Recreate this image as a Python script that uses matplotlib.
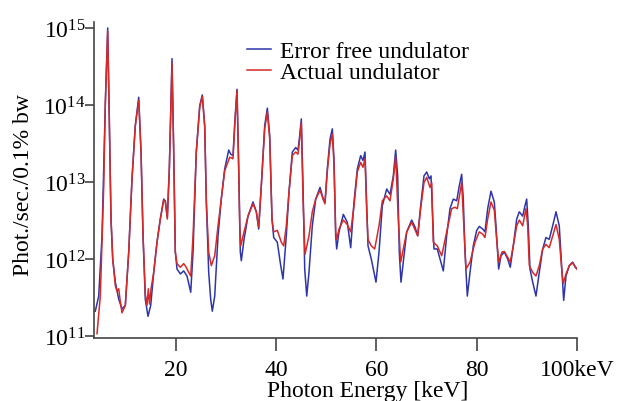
import numpy as np
import matplotlib
matplotlib.use('Agg')
import matplotlib.pyplot as plt
from matplotlib.transforms import ScaledTranslation

# Error free undulator (photon energy in keV, flux in phot/s/0.1% bw)
energy_free = [3.98, 4.66, 5.32, 5.98, 6.45, 6.77, 7.11, 7.45, 7.97, 8.65, 9.30, 9.96, 10.64, 11.29, 11.95,
               12.63, 13.09, 13.49, 13.94, 14.48, 15.02, 15.62, 16.27, 16.93, 17.61, 17.93, 18.33, 18.73, 19.26,
               19.60, 19.92, 20.26, 20.92, 21.59, 22.25, 22.99, 23.45, 24.10, 24.78, 25.30, 25.78, 26.10, 26.57,
               26.97, 27.29, 27.77, 28.43, 29.08, 29.76, 30.56, 30.96, 31.41, 31.81, 32.21, 32.55, 32.87, 33.07,
               33.61, 34.40, 35.40, 36.06, 36.53, 37.05, 37.73, 38.25, 38.73, 39.18, 39.52, 40.24, 40.92, 41.37,
               42.03, 42.57, 43.23, 43.90, 44.36, 44.70, 45.02, 45.36, 45.70, 46.10, 46.55, 47.21, 47.89, 48.75,
               49.40, 49.74, 50.20, 50.74, 51.20, 51.53, 51.87, 52.07, 52.53, 53.39, 54.18, 54.86, 55.52, 56.18,
               56.85, 57.31, 57.71, 58.05, 58.31, 58.96, 59.50, 59.90, 60.50, 61.16, 62.03, 62.69, 63.35, 63.82,
               64.22, 64.54, 64.88, 65.34, 66.02, 67.01, 67.67, 68.21, 68.80, 69.46, 70.00, 70.52, 70.86, 71.20,
               71.45, 72.11, 72.65, 73.31, 73.98, 74.64, 75.30, 75.98, 76.49, 76.97, 77.29, 77.63, 78.09, 78.63,
               79.28, 79.96, 80.48, 81.16, 81.61, 82.15, 82.81, 83.47, 83.80, 84.34, 84.80, 85.46, 86.14, 86.65,
               87.25, 87.93, 88.45, 89.12, 89.58, 89.92, 90.24, 90.58, 91.12, 91.77, 92.43, 93.11, 93.76, 94.42,
               95.10, 95.76, 96.41, 96.81, 97.29, 97.75, 98.41, 99.08, 99.60, 99.94]
flux_free = [2.1e11, 3.3e11, 2.0e12, 1.07e14, 1.0e15, 6.6e13, 3.3e12, 1.0e12, 5.0e11, 3.0e11, 2.24e11, 2.5e11,
             1.23e12, 1.1e13, 5.4e13, 1.26e14, 2.45e13, 2.0e12, 3.0e11, 1.8e11, 2.5e11, 6.7e11, 1.65e12, 3.3e12,
             6.0e12, 5.7e12, 3.5e12, 1.48e13, 4.0e14, 2.45e13, 1.23e12, 7.4e11, 6.4e11, 7.0e11, 6.0e11, 3.7e11,
             1.23e12, 2.45e13, 9.8e13, 1.35e14, 5.4e13, 5.5e12, 6.7e11, 3.0e11, 2.1e11, 3.3e11, 2.0e12, 6.0e12,
             1.48e13, 2.6e13, 2.3e13, 2.2e13, 6.6e13, 1.6e14, 1.48e13, 1.23e12, 9.5e11, 1.8e12, 3.6e12, 5.5e12,
             4.1e12, 2.45e12, 8.9e12, 5.4e13, 9.1e13, 4.0e13, 3.3e12, 1.9e12, 1.65e12, 8.2e11, 5.5e11, 2.0e12,
             7.4e12, 2.45e13, 2.8e13, 2.6e13, 4.0e13, 6.6e13, 8.9e12, 7.4e11, 3.3e11, 6.7e11, 2.7e12, 6.0e12,
             8.5e12, 6.0e12, 5.5e12, 1.48e13, 3.6e13, 4.9e13, 2.0e13, 2.0e12, 1.35e12, 2.25e12, 3.8e12, 3.0e12,
             1.4e12, 5.5e12, 1.48e13, 2.2e13, 1.9e13, 2.45e13, 4.9e12, 1.48e12, 1.0e12, 6.7e11, 5.0e11, 1.23e12,
             4.9e12, 8.1e12, 6.9e12, 1.2e13, 2.6e13, 1.2e13, 1.23e12, 5.0e11, 9.1e11, 2.25e12, 3.2e12, 2.6e12,
             2.0e12, 4.9e12, 1.2e13, 1.35e13, 1.1e13, 1.2e13, 3.3e12, 1.35e12, 1.35e12, 1.0e12, 7.0e11, 2.0e12,
             4.5e12, 6.0e12, 5.7e12, 8.9e12, 1.26e13, 6.0e12, 1.23e12, 3.3e11, 6.7e11, 1.48e12, 2.35e12, 2.65e12,
             2.45e12, 2.25e12, 4.5e12, 7.6e12, 5.5e12, 2.7e12, 7.4e11, 1.1e12, 1.23e12, 1.0e12, 7.8e11, 1.48e12,
             3.3e12, 4.1e12, 3.6e12, 4.9e12, 6.0e12, 2.7e12, 7.4e11, 5.0e11, 3.3e11, 6.7e11, 1.35e12, 1.9e12,
             1.8e12, 2.7e12, 4.1e12, 2.7e12, 1.0e12, 2.9e11, 6.0e11, 8.2e11, 9.1e11, 7.8e11, 7.4e11]

# Actual undulator
energy_actual = [4.32, 4.62, 4.98, 5.66, 5.98, 6.45, 6.77, 7.11, 7.45, 7.97, 8.31, 8.65, 8.90, 9.30, 9.96,
                 10.64, 11.29, 11.95, 12.63, 13.09, 13.49, 13.94, 14.28, 14.54, 14.78, 15.08, 15.62, 16.27,
                 16.93, 17.61, 17.93, 18.33, 18.73, 19.26, 19.60, 19.92, 20.26, 20.92, 21.59, 22.05, 22.59,
                 22.99, 23.45, 24.10, 24.78, 25.30, 25.78, 26.10, 26.57, 27.09, 27.77, 28.43, 29.08, 29.76,
                 30.76, 31.41, 31.81, 32.21, 32.55, 32.75, 32.95, 33.61, 34.40, 35.40, 36.06, 36.53, 37.05,
                 37.73, 38.25, 38.73, 39.18, 39.52, 40.24, 41.04, 41.51, 42.03, 42.57, 43.23, 43.90, 44.36,
                 44.70, 45.02, 45.36, 45.76, 46.55, 47.21, 47.89, 48.75, 49.40, 49.74, 50.20, 50.74, 51.20,
                 51.53, 51.87, 52.07, 52.53, 53.39, 54.18, 54.86, 55.52, 56.18, 56.85, 57.31, 57.71, 58.05,
                 58.31, 58.96, 59.64, 60.50, 61.16, 62.03, 62.69, 63.35, 63.82, 64.34, 64.82, 65.34, 66.02,
                 67.01, 68.21, 68.80, 69.46, 70.00, 70.66, 71.00, 71.31, 72.11, 72.99, 73.98, 74.98, 75.64,
                 76.10, 76.97, 77.33, 77.83, 78.63, 79.62, 80.48, 81.16, 81.61, 82.15, 82.81, 83.47, 83.94,
                 84.34, 85.00, 85.46, 86.14, 86.65, 87.25, 87.93, 88.45, 89.12, 89.78, 90.12, 90.44, 91.12,
                 91.77, 92.43, 93.11, 93.76, 94.42, 95.10, 95.76, 96.41, 96.95, 97.21, 97.75, 98.41, 99.08,
                 99.94]
flux_actual = [1.07e11, 1.8e11, 3.3e11, 8.9e12, 1.07e14, 9.1e14, 6.6e13, 3.3e12, 1.0e12, 4.5e11, 3.8e11, 4.1e11,
               3.0e11, 2.0e11, 2.5e11, 1.23e12, 1.1e13, 5.4e13, 1.15e14, 2.45e13, 2.0e12, 3.5e11, 2.5e11, 4.1e11,
               2.6e11, 4.1e11, 6.7e11, 1.65e12, 3.3e12, 5.9e12, 5.5e12, 3.3e12, 1.48e13, 3.5e14, 2.45e13, 1.23e12,
               8.7e11, 7.8e11, 8.7e11, 7.9e11, 6.7e11, 6.0e11, 2.0e12, 2.45e13, 9.3e13, 1.3e14, 5.1e13, 5.5e12,
               1.23e12, 8.2e11, 1.1e12, 2.7e12, 6.0e12, 1.4e13, 2.1e13, 2.0e13, 6.2e13, 1.55e14, 1.48e13, 2.7e12,
               1.48e12, 2.25e12, 3.6e12, 5.2e12, 4.1e12, 2.6e12, 8.9e12, 4.9e13, 8.1e13, 3.6e13, 3.3e12, 2.25e12,
               2.35e12, 1.65e12, 1.48e12, 2.7e12, 7.4e12, 2.2e13, 2.45e13, 2.3e13, 3.6e13, 6.0e13, 6.0e12, 1.15e12,
               2.0e12, 4.1e12, 6.0e12, 7.8e12, 5.9e12, 5.2e12, 1.38e13, 3.1e13, 4.2e13, 1.7e13, 2.25e12, 1.8e12,
               2.45e12, 3.2e12, 2.8e12, 2.25e12, 4.9e12, 1.35e13, 1.8e13, 1.55e13, 2.0e13, 4.1e12, 1.8e12, 1.48e12,
               1.35e12, 2.7e12, 5.7e12, 6.6e12, 5.7e12, 1.1e13, 2.1e13, 3.3e12, 9.1e11, 1.35e12, 2.25e12, 3.0e12,
               2.0e12, 4.5e12, 9.8e12, 1.15e13, 8.5e12, 9.8e12, 1.65e12, 1.48e12, 1.1e12, 2.25e12, 4.5e12, 4.7e12,
               4.5e12, 9.8e12, 3.3e12, 7.4e11, 9.1e11, 1.65e12, 2.25e12, 2.1e12, 1.9e12, 3.3e12, 5.5e12, 4.3e12,
               1.8e12, 9.1e11, 1.23e12, 1.25e12, 1.05e12, 9.1e11, 1.48e12, 2.7e12, 3.2e12, 2.7e12, 4.5e12, 2.7e12,
               8.2e11, 6.7e11, 6.0e11, 8.2e11, 1.35e12, 1.55e12, 1.4e12, 2.0e12, 2.8e12, 1.8e12, 6.7e11, 4.8e11,
               6.4e11, 8.2e11, 8.9e11, 7.4e11]

x_ticks = [20, 40, 60, 80, 100]
x_tick_labels = ['20', '40', '60', '80', '100keV']
y_ticks = [1e11, 1e12, 1e13, 1e14, 1e15]

plt.rcParams['font.family'] = ['Liberation Serif', 'DejaVu Serif']
plt.rcParams['font.size'] = 17

fig = plt.figure(figsize=(6.27, 4.02), dpi=100)
ax = fig.add_axes([0.1504, 0.156, 0.7703, 0.7868])

ax.plot(energy_free, flux_free, color='#2e35a8', lw=1.1, label='Error free undulator')
ax.plot(energy_actual, flux_actual, color='#d42a2a', lw=1.1, label='Actual undulator')

ax.set_yscale('log')
ax.set_xlim(3.78, 100)
ax.set_ylim(10 ** 10.97, 10 ** 15.078)
ax.set_xticks(x_ticks)
ax.set_xticklabels(x_tick_labels)
ax.set_yticks(y_ticks)
ax.minorticks_off()

# "100" sits on its tick, "keV" runs past it
last = ax.get_xticklabels()[-1]
last.set_transform(last.get_transform() + ScaledTranslation(0.14, 0, fig.dpi_scale_trans))

for s in ['top', 'right']:
    ax.spines[s].set_visible(False)
for s in ['left', 'bottom']:
    ax.spines[s].set_color('#444444')
    ax.spines[s].set_linewidth(1.2)
ax.tick_params(axis='x', direction='out', length=9, width=1.2, color='#444444', pad=6)
ax.tick_params(axis='y', direction='out', length=6.5, width=1.2, color='#444444', pad=0)

ax.set_xlabel('Photon Energy [keV]')
ax.xaxis.set_label_coords(0.567, -0.133)
ax.set_ylabel('Phot./sec./0.1% bw')
ax.yaxis.set_label_coords(-0.125, 0.488)

ax.legend(loc='upper left', bbox_to_anchor=(0.316, 0.942), frameon=False, handlelength=1.0,
          handletextpad=0.4, labelspacing=0.0, borderpad=0, borderaxespad=0)

plt.savefig('out.png', dpi=100)
